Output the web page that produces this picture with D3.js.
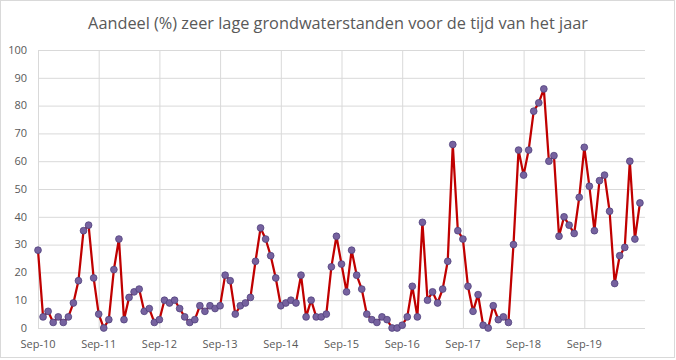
<!DOCTYPE html>
<html lang="nl">
<head>
    <meta charset="UTF-8">
    <title>Aandeel zeer lage grondwaterstanden</title>
    <script src="https://d3js.org/d3.v7.min.js"></script>
    <style>
        body { margin: 0; background: #fff; }
        text { font-family: "Open Sans", "Liberation Sans", sans-serif; fill: #595959; }
        .grid line { stroke: #d9d9d9; stroke-width: 1; }
        .grid path { display: none; }
    </style>
</head>
<body>
    <svg width="676" height="360"></svg>
<script>
    // maandelijkse waarden sep-2010 t/m aug-2020
    const waarden = [
        28, 4, 6, 2, 4, 2, 4, 9, 17, 35, 37, 18,
        5, 0, 3, 21, 32, 3, 11, 13, 14, 6, 7, 2,
        3, 10, 9, 10, 7, 4, 2, 3, 8, 6, 8, 7,
        8, 19, 17, 5, 8, 9, 11, 24, 36, 32, 26, 18,
        8, 9, 10, 9, 19, 4, 10, 4, 4, 5, 22, 33,
        23, 13, 28, 19, 14, 5, 3, 2, 4, 3, 0, 0,
        1, 4, 15, 4, 38, 10, 13, 9, 14, 24, 66, 35,
        32, 15, 6, 12, 1, 0, 8, 3, 4, 2, 30, 64,
        55, 64, 78, 81, 86, 60, 62, 33, 40, 37, 34, 47,
        65, 51, 35, 53, 55, 42, 16, 26, 29, 60, 32, 45
    ];
    const tickLabels = ["Sep-10", "Sep-11", "Sep-12", "Sep-13", "Sep-14",
                        "Sep-15", "Sep-16", "Sep-17", "Sep-18", "Sep-19"];
    const yTicks = [0, 10, 20, 30, 40, 50, 60, 70, 80, 90, 100];
    const titel = "Aandeel (%) zeer lage grondwaterstanden voor de tijd van het jaar";

    const maanden = d3.timeMonth.range(new Date(2010, 8, 1), new Date(2020, 8, 1));
    const fmt = d3.timeFormat("%b-%y");
    const categories = maanden.map(fmt);

    const svg = d3.select("svg");
    const width = +svg.attr("width");
    const height = +svg.attr("height");

    const plotL = 38, plotR = 645, plotT = 50, plotB = 328;

    // rand om de grafiek
    svg.append("rect")
        .attr("x", 0.5).attr("y", 0.5)
        .attr("width", width - 2).attr("height", height - 3)
        .attr("fill", "#fff").attr("stroke", "#d9d9d9");

    // datum-as: gelijke stappen per maand, as loopt tot sep-20
    const x = d3.scaleLinear().domain([0, categories.length]).range([plotL, plotR]);
    const y = d3.scaleLinear().domain([0, 100]).range([plotB, plotT]);

    const xTickIdx = tickLabels.map(l => categories.indexOf(l));

    svg.append("g").attr("class", "grid")
        .attr("transform", `translate(0,${plotB})`)
        .call(d3.axisBottom(x).tickValues(xTickIdx).tickSize(-(plotB - plotT)).tickFormat(""));

    svg.append("g").attr("class", "grid")
        .attr("transform", `translate(${plotL},0)`)
        .call(d3.axisLeft(y).tickValues(yTicks).tickSize(-(plotR - plotL)).tickFormat(""));

    // y labels
    svg.append("g").selectAll("text")
        .data(yTicks)
        .join("text")
        .attr("x", 27)
        .attr("y", d => y(d))
        .attr("dy", "0.35em")
        .attr("text-anchor", "end")
        .attr("font-size", 11)
        .text(d => d);

    // x labels
    svg.append("g").selectAll("text")
        .data(tickLabels)
        .join("text")
        .attr("x", d => x(categories.indexOf(d)))
        .attr("y", 348)
        .attr("text-anchor", "middle")
        .attr("font-size", 11)
        .text(d => d);

    const line = d3.line()
        .x((d, i) => x(i))
        .y(d => y(d));

    svg.append("path")
        .datum(waarden)
        .attr("fill", "none")
        .attr("stroke", "#c00000")
        .attr("stroke-width", 2.25)
        .attr("stroke-linejoin", "round")
        .attr("d", line);

    svg.append("g").selectAll("circle")
        .data(waarden)
        .join("circle")
        .attr("cx", (d, i) => x(i))
        .attr("cy", d => y(d))
        .attr("r", 3.4)
        .attr("fill", "#76629f")
        .attr("stroke", "#4e3f7a")
        .attr("stroke-width", 0.75)
        .append("title")
        .text((d, i) => categories[i] + ": " + d);

    // titel, breedte passend gemaakt op ~500px
    const t = svg.append("text")
        .attr("x", 338)
        .attr("y", 29)
        .attr("text-anchor", "middle")
        .attr("font-size", 17)
        .text(titel);
    const w = t.node().getComputedTextLength();
    t.attr("font-size", 17 * 500 / w);
</script>
</body>
</html>
